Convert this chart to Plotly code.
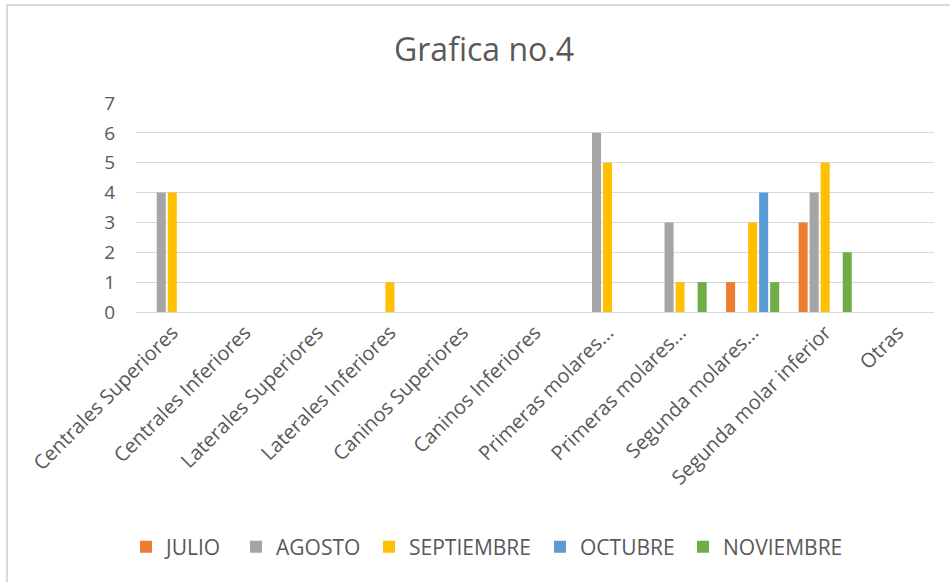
import plotly.graph_objects as go

categories = ["Centrales Superiores", "Centrales Inferiores", "Laterales Superiores",
              "Laterales Inferiores", "Caninos Superiores", "Caninos Inferiores",
              "Primeras molares...", "Primeras molares...", "Segunda molares...",
              "Segunda molar inferior", "Otras"]
series_names = ["JULIO", "AGOSTO", "SEPTIEMBRE", "OCTUBRE", "NOVIEMBRE"]
julio =      [0, 0, 0, 0, 0, 0, 0, 0, 1, 3, 0]
agosto =     [4, 0, 0, 0, 0, 0, 6, 3, 0, 4, 0]
septiembre = [4, 0, 0, 1, 0, 0, 5, 1, 3, 5, 0]
octubre =    [0, 0, 0, 0, 0, 0, 0, 0, 4, 0, 0]
noviembre =  [0, 0, 0, 0, 0, 0, 0, 1, 1, 2, 0]
colors = ["#ED7D31", "#A5A5A5", "#FFC000", "#5B9BD5", "#70AD47"]
yticks = [0, 1, 2, 3, 4, 5, 6, 7]

FONT = "Open Sans"
TXT = "#595959"

W, H = 950, 582
L, R, T, B = 136, 16, 103, 270
pw = W - L - R
ph = H - T - B

def px_x(p):
    return (p - L) / pw

def px_y(p):
    return (H - B - p) / ph

# legend entry left positions (pixels)
legend_left = [126, 236, 369, 540, 683]
legend_keys = ["legend", "legend2", "legend3", "legend4", "legend5"]

x_idx = list(range(len(categories)))
fig = go.Figure()
for name, vals, col, lk in zip(series_names, [julio, agosto, septiembre, octubre, noviembre],
                               colors, legend_keys):
    fig.add_trace(go.Bar(x=x_idx, y=vals, name=name, legend=lk,
                         marker=dict(color=col, line=dict(width=0))))

legends = {}
for lk, lx in zip(legend_keys, legend_left):
    legends[lk] = dict(orientation="h", x=px_x(lx), xanchor="left",
                       y=px_y(547), yanchor="middle",
                       font=dict(size=21, color=TXT, family=FONT),
                       bgcolor="rgba(0,0,0,0)", borderwidth=0, itemwidth=30)

fig.update_layout(
    width=W, height=H,
    margin=dict(l=L, r=R, t=T, b=B),
    paper_bgcolor="white", plot_bgcolor="white",
    barmode="group", bargap=0.24, bargroupgap=0.18,
    font=dict(family=FONT, color=TXT, size=18),
    title=dict(text="Grafica no.4", font=dict(size=32, color=TXT, family=FONT),
               x=px_x(484), xref="paper", xanchor="center",
               y=1 - 50 / H, yref="container", yanchor="middle"),
    xaxis=dict(tickmode="array", tickvals=x_idx, ticktext=categories,
               tickangle=-45, range=[-0.5, len(categories) - 0.5],
               showgrid=False, zeroline=False, showline=False,
               tickfont=dict(size=20, color=TXT), ticks="", ticklabelstandoff=4),
    yaxis=dict(range=[0, 7], tickvals=yticks, showgrid=True, gridcolor="#D9D9D9",
               gridwidth=1, zeroline=True, zerolinecolor="#D9D9D9", zerolinewidth=1,
               showline=False, ticks="", tickfont=dict(size=19, color=TXT),
               ticklabelstandoff=20),
    showlegend=True,
    shapes=[
        dict(type="line", xref="paper", yref="paper", x0=px_x(6), x1=px_x(960),
             y0=px_y(5), y1=px_y(5), line=dict(color="#D9D9D9", width=2)),
        dict(type="line", xref="paper", yref="paper", x0=px_x(7), x1=px_x(7),
             y0=px_y(5), y1=px_y(600), line=dict(color="#D9D9D9", width=2)),
    ],
    **legends,
)

fig.write_html("out.html", config={"displayModeBar": False},
               post_script="document.body.style.margin='0px';")
